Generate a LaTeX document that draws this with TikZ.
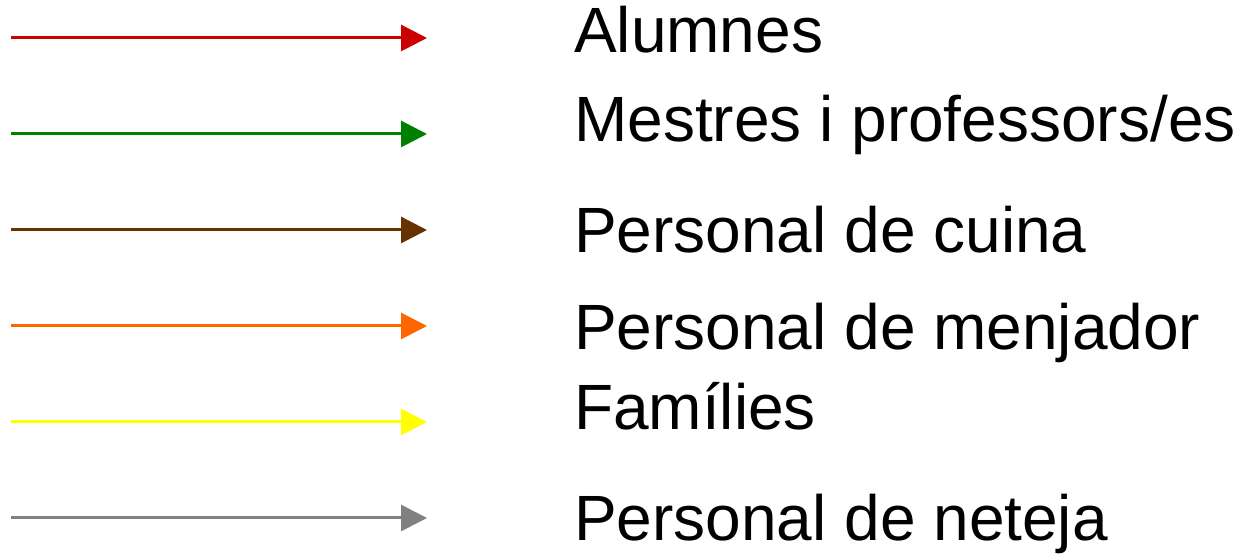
\documentclass[tikz,border=0pt]{standalone}
\usepackage{fontspec}
\setmainfont{Liberation Sans}
\usetikzlibrary{arrows.meta}
\definecolor{cred}{HTML}{CC0000}
\definecolor{cgreen}{HTML}{008000}
\definecolor{cbrown}{HTML}{663300}
\definecolor{corange}{HTML}{FF6600}
\definecolor{cyellow}{HTML}{FFFF00}
\definecolor{cgray}{HTML}{808080}
\tikzset{
  legarrow/.style={line width=3pt,-{Triangle[length=26pt,width=26pt]}},
  legtext/.style={anchor=base west,inner sep=0pt,font=\fontsize{64}{76}\selectfont}
}
\begin{document}
\begin{tikzpicture}[x=1pt,y=1pt]
\useasboundingbox (0,0) rectangle (1240,554);
% arrows (y in image px -> 554 - y)
\coordinate (s1) at (11,516); \coordinate (e1) at (427,516);
\coordinate (s2) at (11,420); \coordinate (e2) at (427,420);
\coordinate (s3) at (11,324); \coordinate (e3) at (427,324);
\coordinate (s4) at (11,228); \coordinate (e4) at (427,228);
\coordinate (s5) at (11,132); \coordinate (e5) at (427,132);
\coordinate (s6) at (11,36);  \coordinate (e6) at (427,36);
\draw[legarrow,cred] (s1) -- (e1);
\draw[legarrow,cgreen] (s2) -- (e2);
\draw[legarrow,cbrown] (s3) -- (e3);
\draw[legarrow,corange] (s4) -- (e4);
\draw[legarrow,cyellow] (s5) -- (e5);
\draw[legarrow,cgray] (s6) -- (e6);
% labels
\node[legtext] (t1) at (574,501) {Alumnes};
\node[legtext] (t2) at (574,412) {Mestres i professors/es};
\node[legtext] (t3) at (574,301) {Personal de cuina};
\node[legtext] (t4) at (574,204) {Personal de menjador};
\node[legtext] (t5) at (574,124) {Famílies};
\node[legtext] (t6) at (574,13) {Personal de neteja};
\end{tikzpicture}
\end{document}
